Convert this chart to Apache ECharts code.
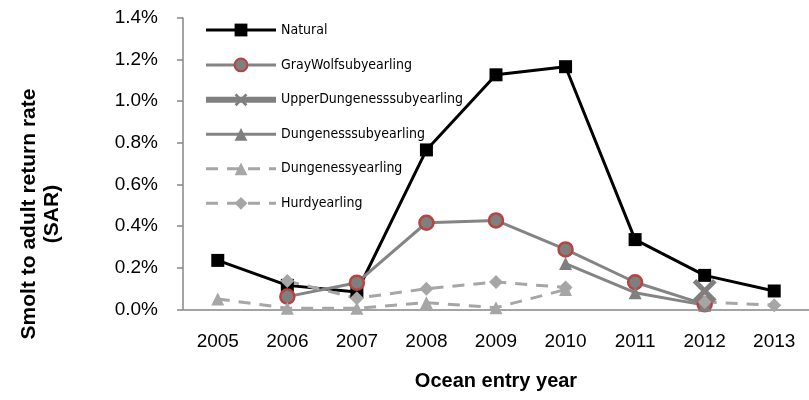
<!DOCTYPE html>
<html>
<head>
<meta charset="utf-8">
<script src="https://cdn.jsdelivr.net/npm/echarts@6/dist/echarts.min.js"></script>
<style>html,body{margin:0;padding:0;background:#fff;}#c{width:809px;height:400px;}</style>
</head>
<body>
<div id="c"></div>
<script>
const years = ['2005','2006','2007','2008','2009','2010','2011','2012','2013'];
const natural = [0.235, 0.115, 0.083, 0.766, 1.127, 1.166, 0.335, 0.163, 0.088];
const grayWolfSub = [null, 0.061, 0.128, 0.416, 0.427, 0.288, 0.130, 0.024, null];
const upperDungenessSub = [null, null, null, null, null, null, null, 0.088, null];
const dungenessSub = [null, null, null, null, null, 0.220, 0.080, 0.020, null];
const dungenessYearling = [0.050, 0.005, 0.005, 0.032, 0.008, 0.095, null, null, null];
const hurdYearling = [null, 0.136, 0.053, 0.099, 0.131, 0.105, null, 0.035, 0.020];
const yTicks = {min: 0, max: 1.4, interval: 0.2};

const xPath = 'path://M3,0 L10,7 L17,0 L20,3 L13,10 L20,17 L17,20 L10,13 L3,20 L0,17 L7,10 L0,3 Z';

const chart = echarts.init(document.getElementById('c'));
chart.setOption({
  animation: false,
  backgroundColor: '#fff',
  grid: {left: 183, top: 18, width: 630, height: 291.3},
  legend: {
    orient: 'vertical', left: 198, top: 18,
    itemWidth: 70, itemHeight: 16, itemGap: 20.5,
    textStyle: {fontFamily: '"Liberation Sans Narrow", "DejaVu Sans Condensed", sans-serif', fontSize: 14, color: '#000'},
    data: [
      {name: 'Natural', lineStyle: {width: 3}},
      {name: 'GrayWolfsubyearling', lineStyle: {width: 3}},
      {name: 'UpperDungenesssubyearling', lineStyle: {width: 6}},
      {name: 'Dungenesssubyearling', lineStyle: {width: 3}},
      {name: 'Dungenessyearling', lineStyle: {width: 3}},
      {name: 'Hurdyearling', lineStyle: {width: 3}}
    ]
  },
  xAxis: {
    type: 'category', data: years, boundaryGap: true,
    axisLine: {lineStyle: {color: '#868686', width: 1.5}},
    axisTick: {length: 6, lineStyle: {color: '#868686', width: 1.5}},
    axisLabel: {fontFamily: 'Liberation Sans, sans-serif', fontSize: 19, color: '#000', margin: 23},
    name: 'Ocean entry year', nameLocation: 'middle', nameGap: 62,
    nameTextStyle: {fontFamily: 'Liberation Sans, sans-serif', fontWeight: 'bold', fontSize: 20, color: '#000'}
  },
  yAxis: {
    type: 'value', min: yTicks.min, max: yTicks.max, interval: yTicks.interval,
    splitLine: {show: false},
    axisLine: {show: true, lineStyle: {color: '#868686', width: 1.5}},
    axisTick: {show: true, length: 6, lineStyle: {color: '#868686', width: 1.5}},
    axisLabel: {fontFamily: 'Liberation Sans, sans-serif', fontSize: 19, color: '#000', margin: 25,
      formatter: v => v.toFixed(1) + '%'}
  },
  graphic: [{
    type: 'text', x: 41, y: 214, rotation: Math.PI / 2,
    style: {text: 'Smolt to adult return rate\n(SAR)', fontFamily: 'Liberation Sans, sans-serif', fontWeight: 'bold',
      fontSize: 21, lineHeight: 23, fill: '#000', textAlign: 'center', textVerticalAlign: 'middle'}
  }],
  series: [
    {name: 'Natural', type: 'line', data: natural, symbol: 'rect', symbolSize: 13,
      lineStyle: {color: '#000', width: 3}, itemStyle: {color: '#000'}},
    {name: 'GrayWolfsubyearling', type: 'line', data: grayWolfSub, symbol: 'circle', symbolSize: 14,
      lineStyle: {color: '#848484', width: 3}, itemStyle: {color: '#7f7f7f', borderColor: '#b8433f', borderWidth: 2.5}},
    {name: 'UpperDungenesssubyearling', type: 'line', data: upperDungenessSub, symbol: xPath, symbolSize: 24,
      lineStyle: {color: '#808080', width: 6}, itemStyle: {color: '#7f7f7f'}},
    {name: 'Dungenesssubyearling', type: 'line', data: dungenessSub, symbol: 'triangle', symbolSize: 13,
      lineStyle: {color: '#848484', width: 3}, itemStyle: {color: '#7f7f7f'}},
    {name: 'Dungenessyearling', type: 'line', data: dungenessYearling, symbol: 'triangle', symbolSize: 13,
      lineStyle: {color: '#a6a6a6', width: 3, type: [12, 9]}, itemStyle: {color: '#a6a6a6'}},
    {name: 'Hurdyearling', type: 'line', data: hurdYearling, symbol: 'diamond', symbolSize: 14,
      lineStyle: {color: '#a6a6a6', width: 3, type: [12, 9]}, itemStyle: {color: '#a6a6a6'}}
  ]
});
</script>
</body>
</html>
